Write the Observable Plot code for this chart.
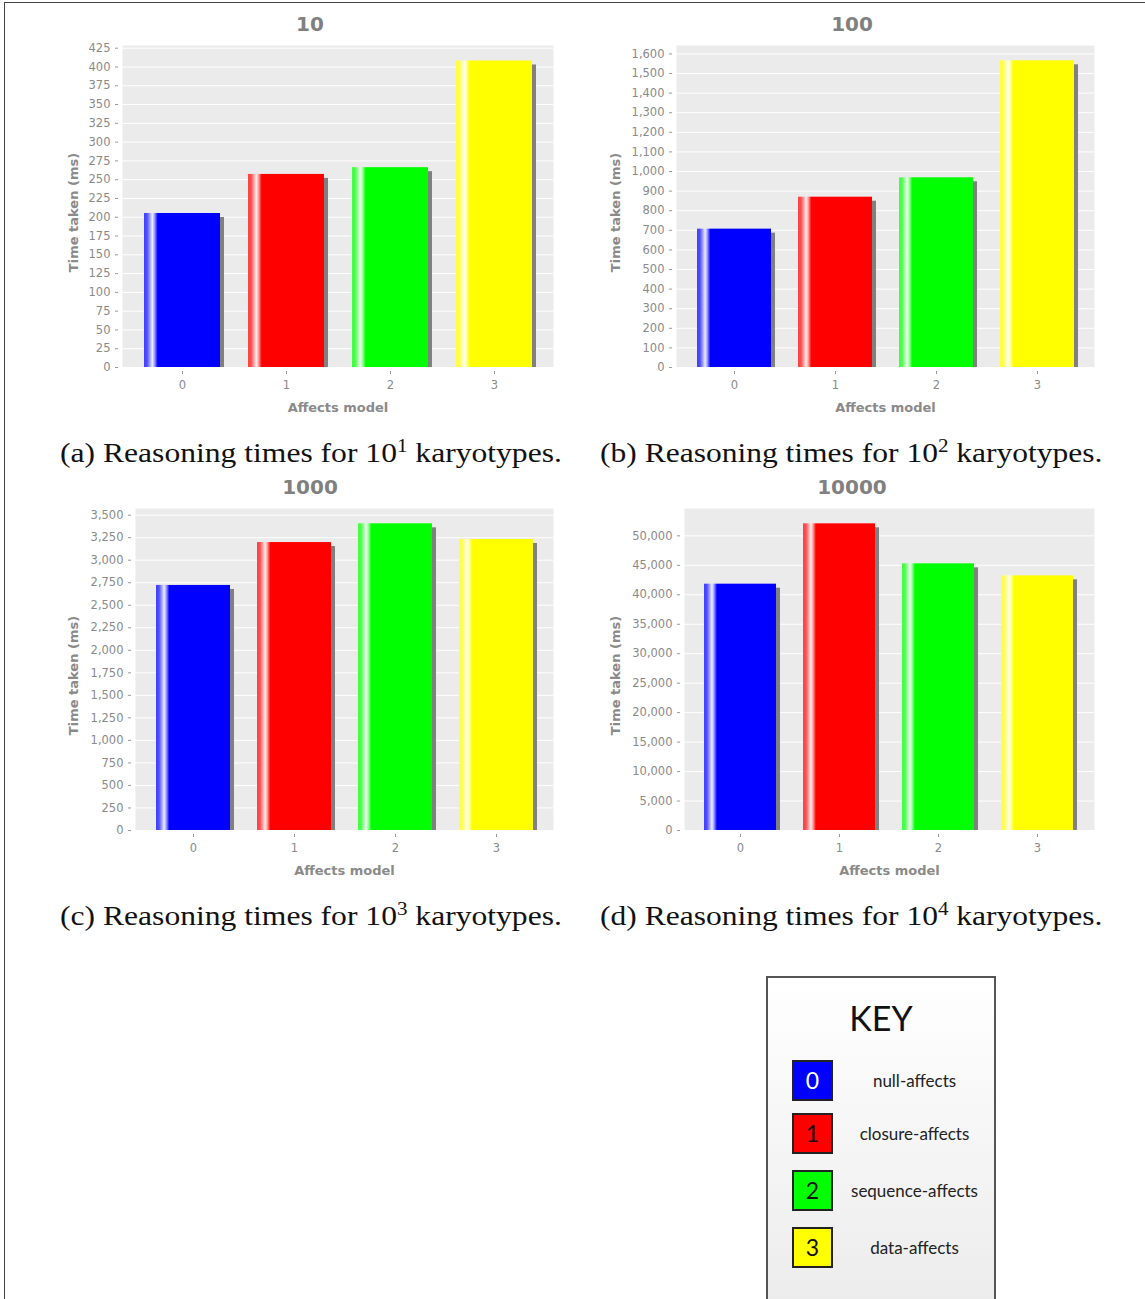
<!DOCTYPE html>
<html>
<head>
<meta charset="utf-8">
<script src="https://cdn.jsdelivr.net/npm/d3@7"></script>
<script src="https://cdn.jsdelivr.net/npm/@observablehq/plot@0.6"></script>
<style>
  body { margin: 0; background: #fff; }
  #page { position: relative; width: 1145px; height: 1299px; overflow: hidden; background: #fff; }
  #frame { position: absolute; left: 4px; top: 2px; width: 1200px; height: 1400px; border-top: 1.5px solid #444; border-left: 1.5px solid #444; }
  .panel { position: absolute; }
  .ptitle { position: absolute; font-family: "DejaVu Sans", sans-serif; font-weight: bold; font-size: 20px; color: #808080; transform: translate(-50%, -50%); white-space: nowrap; }
  .caption { position: absolute; font-family: "Liberation Serif", serif; font-size: 27px; color: #111; white-space: nowrap; transform-origin: 0 50%; }
  .caption sup { font-size: 18px; vertical-align: 10px; line-height: 0; }
  #key { position: absolute; left: 766px; top: 976px; width: 226px; height: 340px; border: 2px solid #555; background: linear-gradient(#ffffff, #ebebeb); font-family: Lato, "Open Sans", sans-serif; }
  #key .ktitle { position: absolute; left: 0; width: 100%; top: 19px; text-align: center; font-size: 34px; color: #111; }
  #key .sw { position: absolute; left: 24px; width: 37px; height: 37px; border: 2px solid #222; font-size: 23px; text-align: center; line-height: 37px; }
  #key .lab { position: absolute; left: 70px; width: 153px; text-align: center; font-size: 17px; color: #222; transform: translateY(-50%); }
</style>
</head>
<body>
<div id="page"><div id="frame"></div></div>
<svg id="defs" width="0" height="0" style="position:absolute;left:0;top:0"></svg>
<script>
// ---- data ----
const models = ["0", "1", "2", "3"];
const modelNames = ["null-affects", "closure-affects", "sequence-affects", "data-affects"];
const barColors = ["#0000ff", "#ff0000", "#00ff00", "#ffff00"];
const swatchTextColors = ["#ffffff", "#111111", "#111111", "#111111"];
const panelTitles = ["10", "100", "1000", "10000"];
const captionLetters = ["a", "b", "c", "d"];
const captionExponents = ["1", "2", "3", "4"];
const times10 = [205, 257, 266, 408];
const times100 = [706, 869, 968, 1565];
const times1000 = [2720, 3196, 3404, 3230];
const times10000 = [41800, 52040, 45250, 43210];
const yTickSteps = [25, 100, 250, 5000];
const yTickMax = [425, 1600, 3500, 50000];
const yDomainMax = [428.6, 1643, 3574, 54640];
const yLabel = "Time taken (ms)";
const xLabel = "Affects model";

const series = [times10, times100, times1000, times10000];

// ---- gradient defs (bar highlight) ----
const defs = d3.select("#defs").append("defs");
const gradStops = [[0, 0.25], [0.04, 0.3], [0.08, 0.65], [0.11, 0.93], [0.14, 0.6], [0.18, 0], [1, 0]];
barColors.forEach((c, i) => {
  const g = defs.append("linearGradient").attr("id", "bargrad" + i).attr("x1", 0).attr("x2", 1).attr("y1", 0).attr("y2", 0);
  gradStops.forEach(([o, t]) => g.append("stop").attr("offset", o).attr("stop-color", d3.interpolateRgb(c, "#ffffff")(t)));
});

// ---- layout of the four panels ----
const layout = [
  {left: 0,   top: 0,   width: 570, height: 430, ml: 122, mr: 17, mt: 45, mb: 63, ylx: 73,  tx: 310, ty: 24, cx: 60,  cy: 453},
  {left: 570, top: 0,   width: 575, height: 430, ml: 106, mr: 51, mt: 45, mb: 63, ylx: 615, tx: 852, ty: 24, cx: 600, cy: 453},
  {left: 0,   top: 464, width: 570, height: 430, ml: 135, mr: 17, mt: 44, mb: 64, ylx: 73,  tx: 310, ty: 487, cx: 60,  cy: 916},
  {left: 570, top: 464, width: 575, height: 430, ml: 114, mr: 51, mt: 44, mb: 64, ylx: 615, tx: 852, ty: 487, cx: 600, cy: 916}
];
const captionWidth = 502;

const page = document.getElementById("page");

series.forEach((vals, p) => {
  const L = layout[p];
  const data = models.map((m, i) => ({model: m, time: vals[i]}));
  const ticks = d3.range(0, yTickMax[p] + 1e-9, yTickSteps[p]);
  const labelFont = {fontFamily: "DejaVu Sans, sans-serif", fontWeight: "bold", fontSize: 13, fill: "#8a8a8a", lineAnchor: "middle", textAnchor: "middle"};
  const chart = Plot.plot({
    width: L.width,
    height: L.height,
    marginLeft: L.ml,
    marginRight: L.mr,
    marginTop: L.mt,
    marginBottom: L.mb,
    style: {background: "transparent", fontFamily: "DejaVu Sans, sans-serif", fontSize: "11.5px", color: "#8a8a8a"},
    x: {domain: models, paddingInner: 0.27, paddingOuter: 0.19},
    y: {domain: [0, yDomainMax[p]]},
    color: {type: "ordinal", domain: models, range: models.map((m, i) => `url(#bargrad${i})`)},
    marks: [
      Plot.frame({fill: "#ebebeb", stroke: null}),
      Plot.gridY(ticks, {stroke: "#ffffff", strokeOpacity: 1, strokeWidth: 1}),
      Plot.axisY(ticks, {tickFormat: d3.format(","), tickSize: 3, tickPadding: 5, dx: -4, stroke: "#999", fill: "#8a8a8a", label: null}),
      Plot.axisX({tickSize: 3, dy: 4, tickPadding: 6, stroke: "#999", fill: "#8a8a8a", label: null}),
      Plot.barY(data, {x: "model", y: "time", fill: "#808080", dx: 4, insetTop: 4}),
      Plot.barY(data, {x: "model", y: "time", fill: "model"}),
      Plot.text([yLabel], {frameAnchor: "left", rotate: -90, dx: (L.ylx - L.left) - L.ml, dy: 6, ...labelFont}),
      Plot.text([xLabel], {frameAnchor: "bottom", dy: 40, ...labelFont})
    ]
  });
  const wrap = document.createElement("div");
  wrap.className = "panel";
  wrap.style.left = L.left + "px";
  wrap.style.top = L.top + "px";
  wrap.appendChild(chart);
  page.appendChild(wrap);

  const t = document.createElement("div");
  t.className = "ptitle";
  t.style.left = L.tx + "px";
  t.style.top = L.ty + "px";
  t.textContent = panelTitles[p];
  page.appendChild(t);

  const c = document.createElement("div");
  c.className = "caption";
  c.style.left = L.cx + "px";
  c.innerHTML = `(${captionLetters[p]}) Reasoning times for 10<sup>${captionExponents[p]}</sup> karyotypes.`;
  page.appendChild(c);
  const w = c.offsetWidth, h = c.offsetHeight;
  c.style.top = (L.cy - h / 2) + "px";
  c.style.transform = `scale(${captionWidth / w}, 1)`;
});

// ---- key ----
const key = document.createElement("div");
key.id = "key";
const kt = document.createElement("div");
kt.className = "ktitle";
kt.textContent = "KEY";
key.appendChild(kt);
const swTops = [82, 135, 192, 249];
models.forEach((m, i) => {
  const s = document.createElement("div");
  s.className = "sw";
  s.style.top = swTops[i] + "px";
  s.style.background = barColors[i];
  s.style.color = swatchTextColors[i];
  s.textContent = m;
  key.appendChild(s);
  const l = document.createElement("div");
  l.className = "lab";
  l.style.top = (swTops[i] + 20) + "px";
  l.textContent = modelNames[i];
  key.appendChild(l);
});
page.appendChild(key);
</script>
</body>
</html>
